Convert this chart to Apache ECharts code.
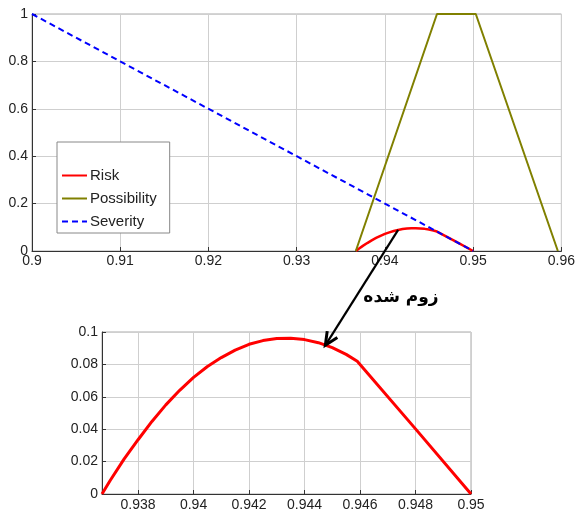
<!DOCTYPE html>
<html><head><meta charset="utf-8">
<script src="https://cdn.jsdelivr.net/npm/echarts@6/dist/echarts.min.js"></script>
<style>html,body{margin:0;padding:0;background:#fff}#c{width:578px;height:512px}</style>
</head><body><div id="c"></div>
<script>
// Severity (linear membership)
const severityX = [0.9, 0.95];
const severityY = [1, 0];
// Possibility (trapezoid)
const possibilityX = [0.9367, 0.9459, 0.9503, 0.9596];
const possibilityY = [0, 1, 1, 0];
// Risk
const riskX = [0.9367, 0.9370, 0.9375, 0.9380, 0.9385, 0.9390, 0.9395, 0.9400, 0.9405, 0.9410, 0.9415, 0.9420, 0.9425, 0.9430, 0.9435, 0.9440, 0.9445, 0.9450, 0.9455, 0.9459, 0.9480, 0.9500];
const riskY = [0, 0.0085, 0.0217, 0.0335, 0.0448, 0.0550, 0.0640, 0.0720, 0.0787, 0.0842, 0.0888, 0.0924, 0.0947, 0.0960, 0.0962, 0.0953, 0.0934, 0.0903, 0.0862, 0.0820, 0.0402, 0];
const topXTicks = [0.9, 0.96, 0.01];
const topYTicks = [0, 1, 0.2];
const botYTicks = [0, 0.1, 0.02];
const zoomLabel = 'زوم شده';

const pairs = (xs, ys) => xs.map((x, i) => [x, ys[i]]);
const font = 'Liberation Sans, Arial, sans-serif';
const gridLine = {show: true, lineStyle: {color: '#cfcfcf', width: 1}};
const axisLine = {show: true, onZero: false, lineStyle: {color: '#333', width: 1}};
const lbl = {color: '#222', fontSize: 14, fontFamily: font};

const chart = echarts.init(document.getElementById('c'), null, {renderer: 'canvas'});
const option = {
  animation: false,
  backgroundColor: '#fff',
  grid: [
    {left: 32, top: 14, width: 533, height: 237, show: true, borderColor: '#aaa', borderWidth: 1, backgroundColor: 'transparent'},
    {left: 102, top: 332, width: 369, height: 164, show: true, borderColor: '#aaa', borderWidth: 1, backgroundColor: 'transparent'}
  ],
  xAxis: [
    {type: 'value', gridIndex: 0, min: topXTicks[0], max: topXTicks[1], interval: topXTicks[2],
     axisLine: axisLine, splitLine: gridLine, axisTick: {show: true, inside: true, length: 4, lineStyle: {color: '#333'}},
     axisLabel: Object.assign({margin: 3}, lbl)},
    {type: 'value', gridIndex: 1, min: riskX[0], max: riskX[riskX.length - 1], splitNumber: 6,
     axisLine: axisLine, splitLine: gridLine, axisTick: {show: true, inside: true, length: 4, lineStyle: {color: '#333'}},
     axisLabel: Object.assign({margin: 4, showMinLabel: false}, lbl)}
  ],
  yAxis: [
    {type: 'value', gridIndex: 0, min: topYTicks[0], max: topYTicks[1], interval: topYTicks[2],
     axisLine: axisLine, splitLine: gridLine, axisTick: {show: true, inside: true, length: 4, lineStyle: {color: '#333'}},
     axisLabel: Object.assign({margin: 4}, lbl)},
    {type: 'value', gridIndex: 1, min: botYTicks[0], max: botYTicks[1], interval: botYTicks[2],
     axisLine: axisLine, splitLine: gridLine, axisTick: {show: true, inside: true, length: 4, lineStyle: {color: '#333'}},
     axisLabel: Object.assign({margin: 4}, lbl)}
  ],
  legend: {
    data: ['Risk', 'Possibility', 'Severity'],
    orient: 'vertical', left: 57, top: 142,
    padding: [26, 13, 4, 4],
    itemWidth: 25, itemHeight: 14, itemGap: 8,
    itemStyle: {opacity: 0},
    backgroundColor: '#fff', borderColor: '#888', borderWidth: 1,
    textStyle: {fontSize: 15, color: '#222', fontFamily: font, padding: [0, 0, 0, -2]}
  },
  series: [
    {name: 'Risk', type: 'line', xAxisIndex: 0, yAxisIndex: 0, data: pairs(riskX, riskY), symbol: 'none', smooth: false,
     lineStyle: {color: '#ff0000', width: 2.5}, itemStyle: {color: '#ff0000'}},
    {name: 'Possibility', type: 'line', xAxisIndex: 0, yAxisIndex: 0, data: pairs(possibilityX, possibilityY), symbol: 'none',
     lineStyle: {color: '#808000', width: 2}, itemStyle: {color: '#808000'}},
    {name: 'Severity', type: 'line', xAxisIndex: 0, yAxisIndex: 0, data: pairs(severityX, severityY), symbol: 'none',
     lineStyle: {color: '#0000ff', width: 2, type: [6, 4]}, itemStyle: {color: '#0000ff'}},
    {name: 'RiskZoom', type: 'line', xAxisIndex: 1, yAxisIndex: 1, data: pairs(riskX, riskY), symbol: 'none',
     lineStyle: {color: '#ff0000', width: 3}, itemStyle: {color: '#ff0000'}}
  ]
};
chart.setOption(option);

// arrow between the two panels, anchored to curve points
const p1 = chart.convertToPixel({gridIndex: 0}, [0.9415, 0.0888]);
const p2 = chart.convertToPixel({gridIndex: 1}, [0.94475, 0.0918]);
const dx = p2[0] - p1[0], dy = p2[1] - p1[1];
const L = Math.sqrt(dx * dx + dy * dy), ux = dx / L, uy = dy / L;
const hl = 13, hw = 6;
const h1 = [p2[0] - ux * hl - uy * hw, p2[1] - uy * hl + ux * hw];
const h2 = [p2[0] - ux * hl + uy * hw, p2[1] - uy * hl - ux * hw];
chart.setOption({
  graphic: [
    {type: 'line', shape: {x1: p1[0], y1: p1[1], x2: p2[0] - ux * 2, y2: p2[1] - uy * 2}, style: {stroke: '#000', lineWidth: 2.2}, z: 100},
    {type: 'polyline', shape: {points: [h1, p2, h2]}, style: {stroke: '#000', lineWidth: 3, fill: null}, z: 100},
    {type: 'text', x: 401, y: 298, style: {text: zoomLabel, font: 'bold 17px "DejaVu Sans"', fill: '#000', align: 'center', verticalAlign: 'middle'}, z: 100}
  ]
});
</script></body></html>
